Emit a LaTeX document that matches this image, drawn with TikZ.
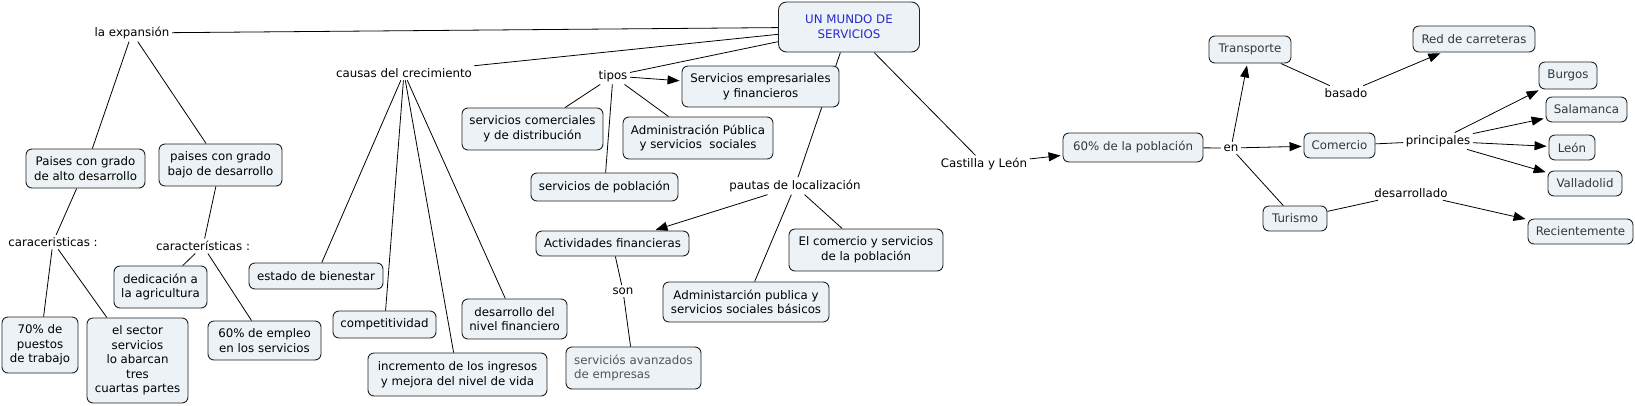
\documentclass[tikz,border=0pt]{standalone}
\usepackage{fontspec}
\setmainfont{DejaVu Sans}
\usetikzlibrary{arrows.meta,backgrounds}
\definecolor{boxfill}{RGB}{236,242,245}
\definecolor{boxline}{RGB}{35,35,35}
\definecolor{titleblue}{RGB}{40,40,205}
\definecolor{darktext}{RGB}{55,55,55}
\definecolor{graytext}{RGB}{85,85,85}
\newcommand\fs{\fontsize{11.8pt}{14.6pt}\selectfont}
\begin{document}
\begin{tikzpicture}[x=1pt,y=-1pt,
  box/.style={draw=boxline, fill=boxfill, rounded corners=6pt, line width=0.9pt,
              align=center, inner sep=0pt, font=\fs},
  rbox/.style={box, text=darktext},
  lbl/.style={inner sep=2.5pt, font=\fs, align=center},
  con/.style={line width=0.8pt, draw=black},
  arr/.style={con, -{Triangle[length=12pt,width=9pt]}, shorten >=2pt}
]
\useasboundingbox (0,0) rectangle (1635,405);

% ---- nodes ----
\node[box, rounded corners=8pt, text=titleblue, minimum width=141pt, minimum height=50pt] (mundo) at (849,27) {UN MUNDO DE\\SERVICIOS};

\node[lbl] (laexp) at (132,33) {la expansión};
\node[box, minimum width=119pt, minimum height=39pt] (paisesalto) at (85.5,168.5) {Paises con grado\\de alto desarrollo};
\node[box, minimum width=123pt, minimum height=42pt] (paisesbajo) at (220.5,165) {paises con grado\\bajo de desarrollo};
\node[lbl] (caract1) at (53,242) {caraceristicas :};
\node[lbl] (caract2) at (203,246) {características :};
\node[box, minimum width=76pt, minimum height=56pt] (setenta) at (40,345) {70\% de\\puestos\\de trabajo};
\node[box, minimum width=101pt, minimum height=85pt] (sector) at (137.5,360.5) {el sector\\servicios\\lo abarcan\\tres\\cuartas partes};
\node[box, minimum width=93pt, minimum height=42pt] (dedicacion) at (160.5,287) {dedicación a\\la agricultura};
\node[box, minimum width=113pt, minimum height=39pt] (empleo) at (264.5,340.5) {60\% de empleo\\en los servicios};

\node[lbl] (causas) at (404,73) {causas del crecimiento};
\node[box, minimum width=134pt, minimum height=26pt] (estado) at (316,276) {estado de bienestar};
\node[box, minimum width=103pt, minimum height=27pt] (compet) at (384.5,324.5) {competitividad};
\node[box, minimum width=179pt, minimum height=43pt] (incremento) at (457.5,374.5) {incremento de los ingresos\\y mejora del nivel de vida};
\node[box, minimum width=105pt, minimum height=40pt] (desarrollo) at (514.5,319) {desarrollo del\\nivel financiero};

\node[lbl] (tipos) at (613,76) {tipos};
\node[box, minimum width=141pt, minimum height=42pt] (servcom) at (532.5,129) {servicios comerciales\\y de distribución};
\node[box, minimum width=157pt, minimum height=41pt] (servemp) at (760.5,86.5) {Servicios empresariales\\y financieros};
\node[box, minimum width=150pt, minimum height=42pt] (adminpub) at (698,138) {Administración Pública\\y servicios\ \ sociales};
\node[box, minimum width=147pt, minimum height=28pt] (servpob) at (604.5,187) {servicios de población};

\node[lbl] (pautas) at (795,186) {pautas de localización};
\node[box, minimum width=153pt, minimum height=25pt] (actfin) at (612.5,243.5) {Actividades financieras};
\node[box, minimum width=166pt, minimum height=40pt] (adminbas) at (746,302) {Administarción publica y\\servicios sociales básicos};
\node[box, minimum width=154pt, minimum height=42pt] (elcomercio) at (866,250) {El comercio y servicios\\de la población};
\node[lbl] (son) at (623,291) {son};
\node[box, align=left, text=graytext, minimum width=135pt, minimum height=42pt] (avanzados) at (633.5,368) {serviciós avanzados\\de empresas};

\node[lbl] (castilla) at (984,164) {Castilla y León};
\node[rbox, minimum width=140pt, minimum height=29pt] (poblacion) at (1133,147.5) {60\% de la población};
\node[lbl] (en) at (1231,148) {en};
\node[rbox, minimum width=82pt, minimum height=27pt] (transporte) at (1250,49.5) {Transporte};
\node[rbox, minimum width=71pt, minimum height=25pt] (comercio) at (1339.5,145.5) {Comercio};
\node[rbox, minimum width=64pt, minimum height=25pt] (turismo) at (1295,218.5) {Turismo};
\node[lbl] (basado) at (1346,93) {basado};
\node[rbox, minimum width=122pt, minimum height=26pt] (red) at (1474,39) {Red de carreteras};
\node[lbl] (principales) at (1438,141) {principales};
\node[rbox, minimum width=58pt, minimum height=27pt] (burgos) at (1568,75.5) {Burgos};
\node[rbox, minimum width=81pt, minimum height=25pt] (salamanca) at (1586.5,109.5) {Salamanca};
\node[rbox, minimum width=46pt, minimum height=25pt] (leon) at (1572,147.5) {León};
\node[rbox, minimum width=74pt, minimum height=25pt] (valladolid) at (1585,183.5) {Valladolid};
\node[lbl] (desarrollado) at (1411,193) {desarrollado};
\node[rbox, minimum width=105pt, minimum height=25pt] (recientemente) at (1580.5,231.5) {Recientemente};

% ---- connectors ----
\begin{scope}[on background layer]
\draw[con] (laexp) -- (mundo);
\draw[con] (causas) -- (mundo);
\draw[con] (tipos) -- (mundo);
\draw[con] (mundo) -- (pautas);
\draw[con] (mundo) -- (castilla);

\draw[con] (laexp) -- (paisesalto);
\draw[con] (laexp) -- (paisesbajo);
\draw[con] (paisesalto) -- (caract1);
\draw[con] (paisesbajo) -- (caract2);
\draw[con] (caract1) -- (setenta);
\draw[con] (caract1) -- (sector);
\draw[con] (caract2) -- (dedicacion);
\draw[con] (caract2) -- (empleo);

\draw[con] (causas) -- (estado);
\draw[con] (causas) -- (compet);
\draw[con] (causas) -- (incremento);
\draw[con] (causas) -- (desarrollo);

\draw[arr] (tipos) -- (servemp);
\draw[con] (tipos) -- (servcom);
\draw[con] (tipos) -- (adminpub);
\draw[con] (tipos) -- (servpob);

\draw[arr] (pautas) -- (actfin);
\draw[con] (pautas) -- (adminbas);
\draw[con] (pautas) -- (elcomercio);
\draw[con] (actfin) -- (son);
\draw[con] (son) -- (avanzados);

\draw[arr] (castilla) -- (poblacion);
\draw[con] (poblacion) -- (en);
\draw[arr] (en) -- (transporte);
\draw[arr] (en) -- (comercio);
\draw[con] (en) -- (turismo);
\draw[con] (transporte) -- (basado);
\draw[arr] (basado) -- (red);
\draw[con] (comercio) -- (principales);
\draw[arr] (principales) -- (burgos);
\draw[arr] (principales) -- (salamanca);
\draw[arr] (principales) -- (leon);
\draw[arr] (principales) -- (valladolid);
\draw[con] (turismo) -- (desarrollado);
\draw[arr] (desarrollado) -- (recientemente);
\end{scope}
\end{tikzpicture}
\end{document}
